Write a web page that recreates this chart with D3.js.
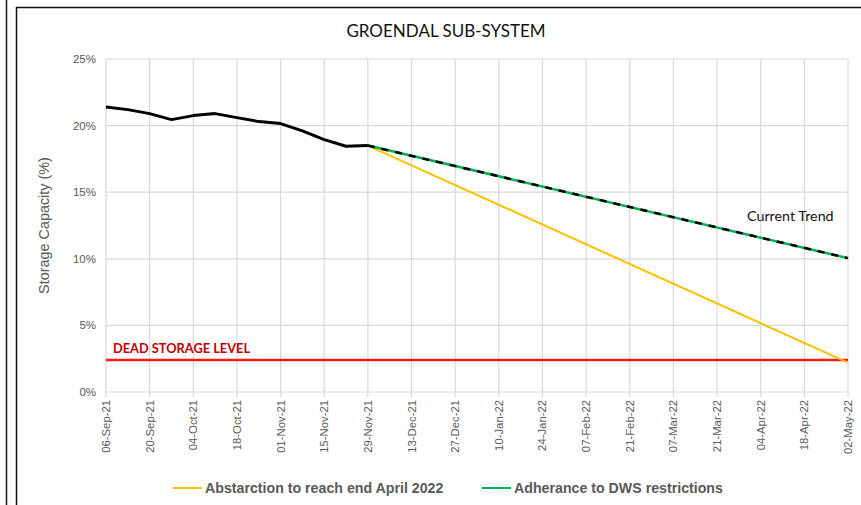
<!DOCTYPE html>
<html>
<head>
<meta charset="utf-8">
<script src="https://cdn.jsdelivr.net/npm/d3@7"></script>
<style>
  body { margin: 0; background: #fff; }
</style>
</head>
<body>
<div id="chart"></div>
<script>
// weekly observed storage (%)
var obsDates = ["2021-09-06","2021-09-13","2021-09-20","2021-09-27","2021-10-04","2021-10-11","2021-10-18","2021-10-25","2021-11-01","2021-11-08","2021-11-15","2021-11-22","2021-11-29"]
var obsValues = [21.4, 21.2, 20.9, 20.45, 20.75, 20.9, 20.6, 20.3, 20.15, 19.6, 18.95, 18.45, 18.5]

// projections from last observation
var projDates = ["2021-11-29", "2022-05-02"]
var abstraction = [18.5, 2.2]
var dwsTrend = [18.5, 10.05]
var deadStorage = 2.4

var tickDates = ["2021-09-06","2021-09-20","2021-10-04","2021-10-18","2021-11-01","2021-11-15","2021-11-29","2021-12-13","2021-12-27","2022-01-10","2022-01-24","2022-02-07","2022-02-21","2022-03-07","2022-03-21","2022-04-04","2022-04-18","2022-05-02"]
var yTicks = [0, 5, 10, 15, 20, 25]
var legendLabels = ["Abstarction to reach end April 2022", "Adherance to DWS restrictions"]

var W = 861, H = 505
var margin = {top: 59, right: 13, bottom: 113, left: 106}

var parse = d3.timeParse("%Y-%m-%d")
var fmt = d3.timeFormat("%d-%b-%y")

var svg = d3.select("#chart").append("svg")
    .attr("width", W).attr("height", H)

// outer frame lines
svg.append("line").attr("x1", 6.5).attr("x2", 6.5).attr("y1", 0).attr("y2", H)
    .style("stroke", "#111").style("stroke-width", 1.5)
svg.append("line").attr("x1", 16.5).attr("x2", 16.5).attr("y1", 7).attr("y2", H)
    .style("stroke", "#111").style("stroke-width", 1.5)
svg.append("line").attr("x1", 16).attr("x2", W).attr("y1", 7.5).attr("y2", 7.5)
    .style("stroke", "#111").style("stroke-width", 1.5)

var x = d3.scaleTime()
    .domain([parse(tickDates[0]), parse(tickDates[tickDates.length-1])])
    .range([margin.left, W - margin.right])
var y = d3.scaleLinear()
    .domain([0, 25])
    .range([H - margin.bottom, margin.top])

// grid
svg.append("g").selectAll("line").data(yTicks).enter().append("line")
    .attr("x1", margin.left).attr("x2", W - margin.right)
    .attr("y1", d => y(d)).attr("y2", d => y(d))
    .style("stroke", "#d9d9d9").style("stroke-width", 1.2)
svg.append("g").selectAll("line").data(tickDates).enter().append("line")
    .attr("x1", d => x(parse(d))).attr("x2", d => x(parse(d)))
    .attr("y1", y(25)).attr("y2", y(0) + 5)
    .style("stroke", "#d9d9d9").style("stroke-width", 1.2)

// y tick labels
svg.append("g").selectAll("text").data(yTicks).enter().append("text")
    .attr("x", margin.left - 10).attr("y", d => y(d) + 4)
    .attr("text-anchor", "end")
    .style("font-family", "Liberation Sans, Arial, sans-serif")
    .style("font-size", "11.5px").style("fill", "#595959")
    .text(d => d + "%")

// x tick labels
svg.append("g").selectAll("text").data(tickDates).enter().append("text")
    .attr("transform", d => "translate(" + (x(parse(d)) + 4) + "," + (y(0) + 8) + ") rotate(-90)")
    .attr("text-anchor", "end")
    .style("font-family", "Liberation Sans, Arial, sans-serif")
    .style("font-size", "11.3px").style("fill", "#595959")
    .text(d => fmt(parse(d)))

// y axis title
svg.append("text")
    .attr("transform", "translate(49," + ((y(0) + y(25)) / 2) + ") rotate(-90)")
    .attr("text-anchor", "middle")
    .style("font-family", "Liberation Sans, Arial, sans-serif")
    .style("font-size", "14.4px").style("fill", "#595959")
    .text("Storage Capacity (%)")

// title
svg.append("text")
    .attr("x", 446).attr("y", 37)
    .attr("text-anchor", "middle")
    .style("font-family", "Lato, 'Open Sans', sans-serif")
    .style("font-size", "17px").style("fill", "#111")
    .text("GROENDAL SUB-SYSTEM")

var line = d3.line().x(d => x(d[0])).y(d => y(d[1]))

// dead storage
svg.append("line")
    .attr("x1", x(parse(tickDates[0]))).attr("x2", W - margin.right)
    .attr("y1", y(deadStorage)).attr("y2", y(deadStorage))
    .style("stroke", "#ff1a1a").style("stroke-width", 2.5)
svg.append("text")
    .attr("x", margin.left + 7).attr("y", y(deadStorage) - 7)
    .style("font-family", "Lato, 'Open Sans', sans-serif").style("font-weight", "bold")
    .style("font-size", "12.8px").style("fill", "#c00000")
    .text("DEAD STORAGE LEVEL")

// abstraction projection
var absData = projDates.map((d, i) => [parse(d), abstraction[i]])
svg.append("path").datum(absData).attr("d", line)
    .style("fill", "none").style("stroke", "#ffc000").style("stroke-width", 2)

// DWS projection: green under black dashes
var dwsData = projDates.map((d, i) => [parse(d), dwsTrend[i]])
svg.append("path").datum(dwsData).attr("d", line)
    .style("fill", "none").style("stroke", "#00b050").style("stroke-width", 2.5)
svg.append("path").datum(dwsData).attr("d", line)
    .style("fill", "none").style("stroke", "#000").style("stroke-width", 2.5)
    .style("stroke-dasharray", "7,7")

// observed
var obsData = obsDates.map((d, i) => [parse(d), obsValues[i]])
svg.append("path").datum(obsData).attr("d", line)
    .style("fill", "none").style("stroke", "#000").style("stroke-width", 3)
    .style("stroke-linejoin", "round")

svg.append("text")
    .attr("x", 747).attr("y", 221)
    .style("font-family", "Lato, 'Open Sans', sans-serif")
    .style("font-size", "14.3px").style("fill", "#111")
    .text("Current Trend")

// legend
var legendColors = ["#ffc000", "#00b050"]
var legendX = [173, 482]
var lg = svg.append("g").selectAll("g").data(legendLabels).enter().append("g")
    .attr("transform", (d, i) => "translate(" + legendX[i] + ",488)")
lg.append("line").attr("x1", 0).attr("x2", 29).attr("y1", 0).attr("y2", 0)
    .style("stroke", (d, i) => legendColors[i]).style("stroke-width", 2)
lg.append("text").attr("x", 32).attr("y", 5)
    .style("font-family", "Liberation Sans, Arial, sans-serif").style("font-weight", "bold")
    .style("font-size", "14.2px").style("fill", "#595959")
    .text(d => d)
</script>
</body>
</html>
